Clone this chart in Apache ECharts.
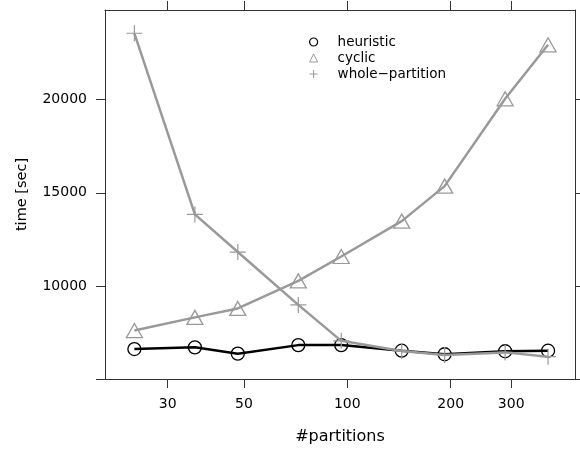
<!DOCTYPE html>
<html>
<head>
<meta charset="utf-8">
<script src="https://cdn.jsdelivr.net/npm/echarts@6/dist/echarts.min.js"></script>
<style>
  html, body { margin: 0; padding: 0; background: #fff; }
  #chart { width: 580px; height: 450px; }
</style>
</head>
<body>
<div id="chart"></div>
<script>
  // values
  const partitions = [24, 36, 48, 72, 96, 144, 192, 288, 384]
  const heuristic = [6610, 6700, 6360, 6820, 6820, 6520, 6330, 6490, 6520]
  const cyclic = [7600, 8310, 8790, 10270, 11580, 13480, 15360, 20050, 22950]
  const wholePartition = [23570, 13840, 11820, 8980, 7050, 6500, 6290, 6430, 6200]
  const xTicks = [30, 50, 100, 200, 300]
  const yTicks = [5000, 10000, 15000, 20000]
  const yLabels = [10000, 15000, 20000]

  const FONT = 'DejaVu Sans'
  const GRAY = '#999999'
  const FRAME = '#333333'
  const X_MIN = 19.71
  const X_MAX = 460
  const Y_MIN = 5000
  const Y_MAX = 24820

  function pairs(values) {
    return partitions.map((p, i) => [p, values[i]])
  }

  const plusPath = 'path://M0,10L20,10M10,0L10,20'

  let myChart = echarts.init(document.getElementById('chart'), null, { renderer: 'canvas' })

  function xAxisBase(pos, showLabels) {
    return {
      type: 'log',
      logBase: 10,
      position: pos,
      min: X_MIN,
      max: X_MAX,
      name: showLabels ? '#partitions' : '',
      nameLocation: 'middle',
      nameGap: 50,
      nameTextStyle: { fontFamily: FONT, fontSize: 16, color: '#000' },
      axisLine: { show: true, onZero: false, lineStyle: { color: FRAME, width: 1 } },
      axisTick: { show: true, inside: false, length: 9, customValues: xTicks, lineStyle: { color: FRAME, width: 1 } },
      axisLabel: {
        show: showLabels,
        customValues: xTicks,
        margin: 18,
        fontFamily: FONT,
        fontSize: 14,
        color: '#000',
        formatter: v => String(Math.round(v))
      },
      splitLine: { show: false },
      minorTick: { show: false }
    }
  }

  function yAxisBase(pos, showLabels) {
    return {
      type: 'value',
      position: pos,
      min: Y_MIN,
      max: Y_MAX,
      interval: 5000,
      name: showLabels ? 'time [sec]' : '',
      nameLocation: 'middle',
      nameGap: 75,
      nameRotate: 90,
      nameTextStyle: { fontFamily: FONT, fontSize: 14.5, color: '#000' },
      axisLine: { show: true, onZero: false, lineStyle: { color: FRAME, width: 1 } },
      axisTick: { show: true, inside: false, length: 9, customValues: yTicks, lineStyle: { color: FRAME, width: 1 } },
      axisLabel: {
        show: showLabels,
        customValues: yLabels,
        margin: 18,
        fontFamily: FONT,
        fontSize: 14,
        color: '#000',
        formatter: v => String(v)
      },
      splitLine: { show: false }
    }
  }

  myChart.setOption({
    animation: false,
    backgroundColor: '#fff',
    grid: { left: 105, right: 5, top: 10, bottom: 70, containLabel: false },
    legend: {
      orient: 'vertical',
      left: 304,
      top: 29,
      itemWidth: 8,
      itemHeight: 8,
      itemGap: 0,
      selectedMode: false,
      textStyle: { fontFamily: FONT, fontSize: 13.5, color: '#000', lineHeight: 16, padding: [0, 0, 0, 15] },
      data: [
        { name: 'heuristic', icon: 'circle', itemStyle: { color: 'rgba(0,0,0,0)', borderColor: '#000', borderWidth: 1.2 } },
        { name: 'cyclic', icon: 'triangle', itemStyle: { color: 'rgba(0,0,0,0)', borderColor: GRAY, borderWidth: 1 } },
        { name: 'whole\u2212partition', icon: plusPath, itemStyle: { color: 'rgba(0,0,0,0)', borderColor: GRAY, borderWidth: 1 } }
      ]
    },
    xAxis: [xAxisBase('bottom', true), xAxisBase('top', false)],
    yAxis: [yAxisBase('left', true), yAxisBase('right', false)],
    series: [
      {
        name: 'heuristic',
        type: 'line',
        data: pairs(heuristic),
        symbol: 'circle',
        symbolSize: 13,
        itemStyle: { color: 'rgba(0,0,0,0)', borderColor: '#000', borderWidth: 1.3 },
        lineStyle: { color: '#000', width: 2.5 },
        emphasis: { disabled: true },
        z: 2
      },
      {
        name: 'cyclic',
        type: 'line',
        data: pairs(cyclic),
        symbol: 'triangle',
        symbolSize: [16, 14],
        itemStyle: { color: 'rgba(0,0,0,0)', borderColor: GRAY, borderWidth: 1.3 },
        lineStyle: { color: GRAY, width: 2.5 },
        emphasis: { disabled: true },
        z: 3
      },
      {
        name: 'whole\u2212partition',
        type: 'line',
        data: pairs(wholePartition),
        symbol: plusPath,
        symbolSize: 16,
        itemStyle: { color: 'rgba(0,0,0,0)', borderColor: GRAY, borderWidth: 1.2 },
        lineStyle: { color: GRAY, width: 2.5 },
        emphasis: { disabled: true },
        z: 4
      }
    ]
  })

  window.addEventListener('resize', function() {
    myChart.resize()
  })
</script>
</body>
</html>
